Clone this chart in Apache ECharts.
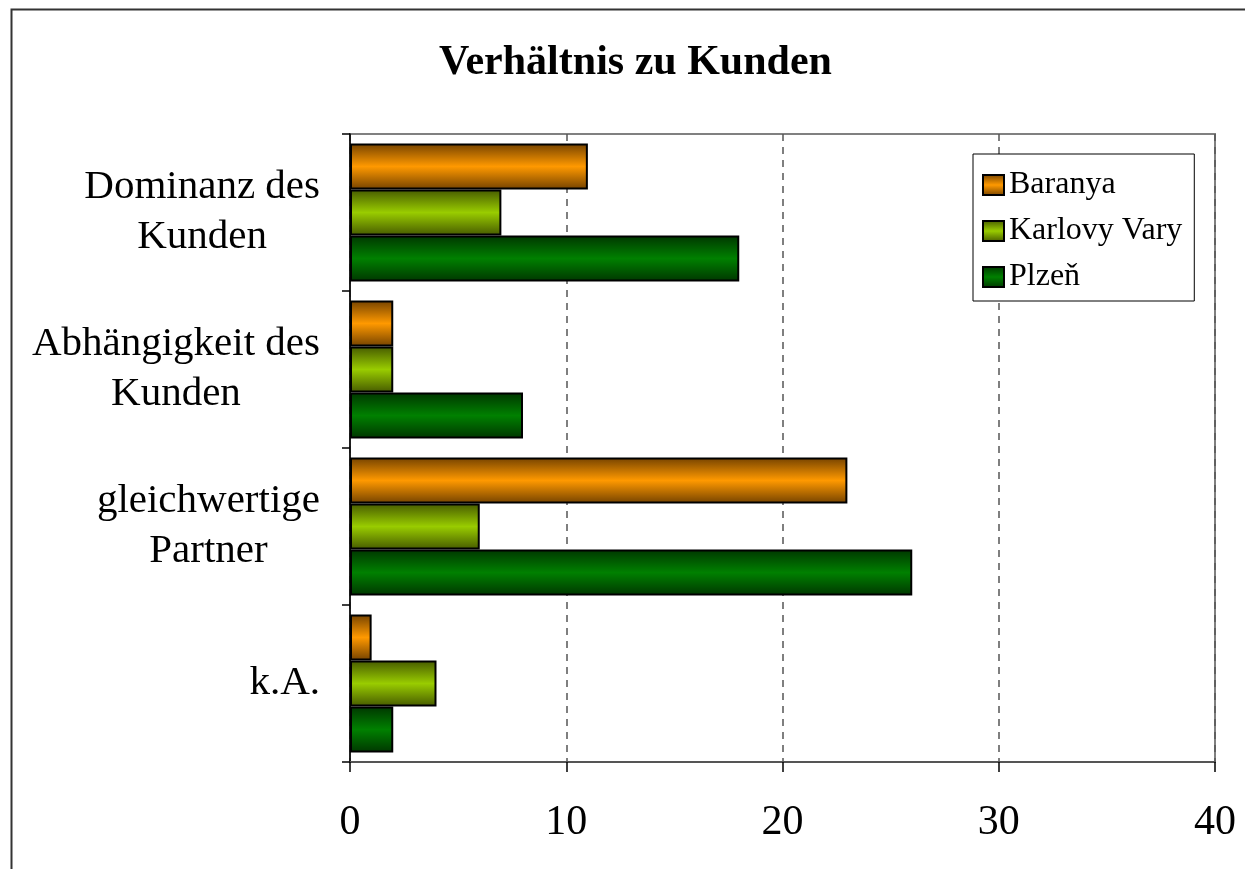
<!DOCTYPE html>
<html>
<head>
<meta charset="utf-8">
<title>Verhältnis zu Kunden</title>
<script src="https://cdn.jsdelivr.net/npm/echarts@6/dist/echarts.min.js"></script>
<style>
  html, body { margin: 0; padding: 0; background: #fff; }
  #chart { width: 1245px; height: 869px; }
</style>
</head>
<body>
<div id="chart"></div>
<script>
// Daten
const categories = ['Dominanz des\nKunden', 'Abhängigkeit des\nKunden', 'gleichwertige\nPartner', 'k.A.']
const seriesNames = ['Baranya', 'Karlovy Vary', 'Plzeň']
const baranya = [11, 2, 23, 1]
const karlovyVary = [7, 2, 6, 4]
const plzen = [18, 8, 26, 2]
const xTicks = [0, 10, 20, 30, 40]

const font = "'Liberation Serif', 'Times New Roman', serif"

// vertical gradient: dark edge, bright middle
function grad (edge, mid) {
  return new echarts.graphic.LinearGradient(0, 0, 0, 1, [
    { offset: 0, color: edge },
    { offset: 0.5, color: mid },
    { offset: 1, color: edge }
  ])
}

const styles = [
  grad('#744200', '#ff9900'),
  grad('#465a00', '#99cc00'),
  grad('#003600', '#008000')
]
const values = [baranya, karlovyVary, plzen]

const myChart = echarts.init(document.getElementById('chart'))
const option = {
  backgroundColor: '#fff',
  animation: false,
  title: {
    text: 'Verhältnis zu Kunden',
    left: 434,
    top: 37,
    textStyle: { fontFamily: font, fontSize: 42, fontWeight: 'bold', color: '#000' }
  },
  graphic: [
    { // Rahmen um das Diagramm
      type: 'rect',
      left: 9,
      top: 7,
      shape: { width: 1400, height: 1000 },
      style: { fill: 'none', stroke: '#333', lineWidth: 2 },
      z: 100
    }
  ],
  legend: {
    data: seriesNames,
    orient: 'vertical',
    left: 973,
    top: 154,
    padding: [15, 12, 8, 9],
    itemGap: 14,
    itemWidth: 21,
    itemHeight: 20,
    icon: 'rect',
    backgroundColor: '#fff',
    borderColor: '#000',
    borderWidth: 1,
    textStyle: { fontFamily: font, fontSize: 32, lineHeight: 30, color: '#000' }
  },
  grid: {
    left: 350,
    top: 134,
    right: 30,
    bottom: 107,
    show: true,
    borderColor: '#808080',
    borderWidth: 2
  },
  xAxis: {
    type: 'value',
    min: xTicks[0],
    max: xTicks[xTicks.length - 1],
    interval: 10,
    axisLine: { show: true, lineStyle: { color: '#555', width: 2 } },
    axisTick: { show: true, length: 10, lineStyle: { color: '#000', width: 1.5 } },
    axisLabel: { margin: 40, fontFamily: font, fontSize: 42, color: '#000' },
    splitLine: { show: true, lineStyle: { color: '#555', width: 1.5, type: [7, 6] } }
  },
  yAxis: {
    type: 'category',
    inverse: true,
    data: categories,
    axisLine: { show: true, lineStyle: { color: '#000', width: 1.5 } },
    axisTick: { show: true, length: 8, lineStyle: { color: '#000', width: 1.5 } },
    axisLabel: {
      margin: 30,
      formatter: function (v) {
        return v.split('\n').map(function (s) { return '{a|' + s + '}' }).join('\n')
      },
      rich: {
        a: { fontFamily: font, fontSize: 41, lineHeight: 50, color: '#000', align: 'center' }
      }
    },
    splitLine: { show: false }
  },
  series: seriesNames.map(function (name, i) {
    return {
      name: name,
      type: 'bar',
      data: values[i],
      barGap: '0%',
      barCategoryGap: '12%',
      itemStyle: { color: styles[i], borderColor: '#000', borderWidth: 2 }
    }
  })
}
myChart.setOption(option)
</script>
</body>
</html>
